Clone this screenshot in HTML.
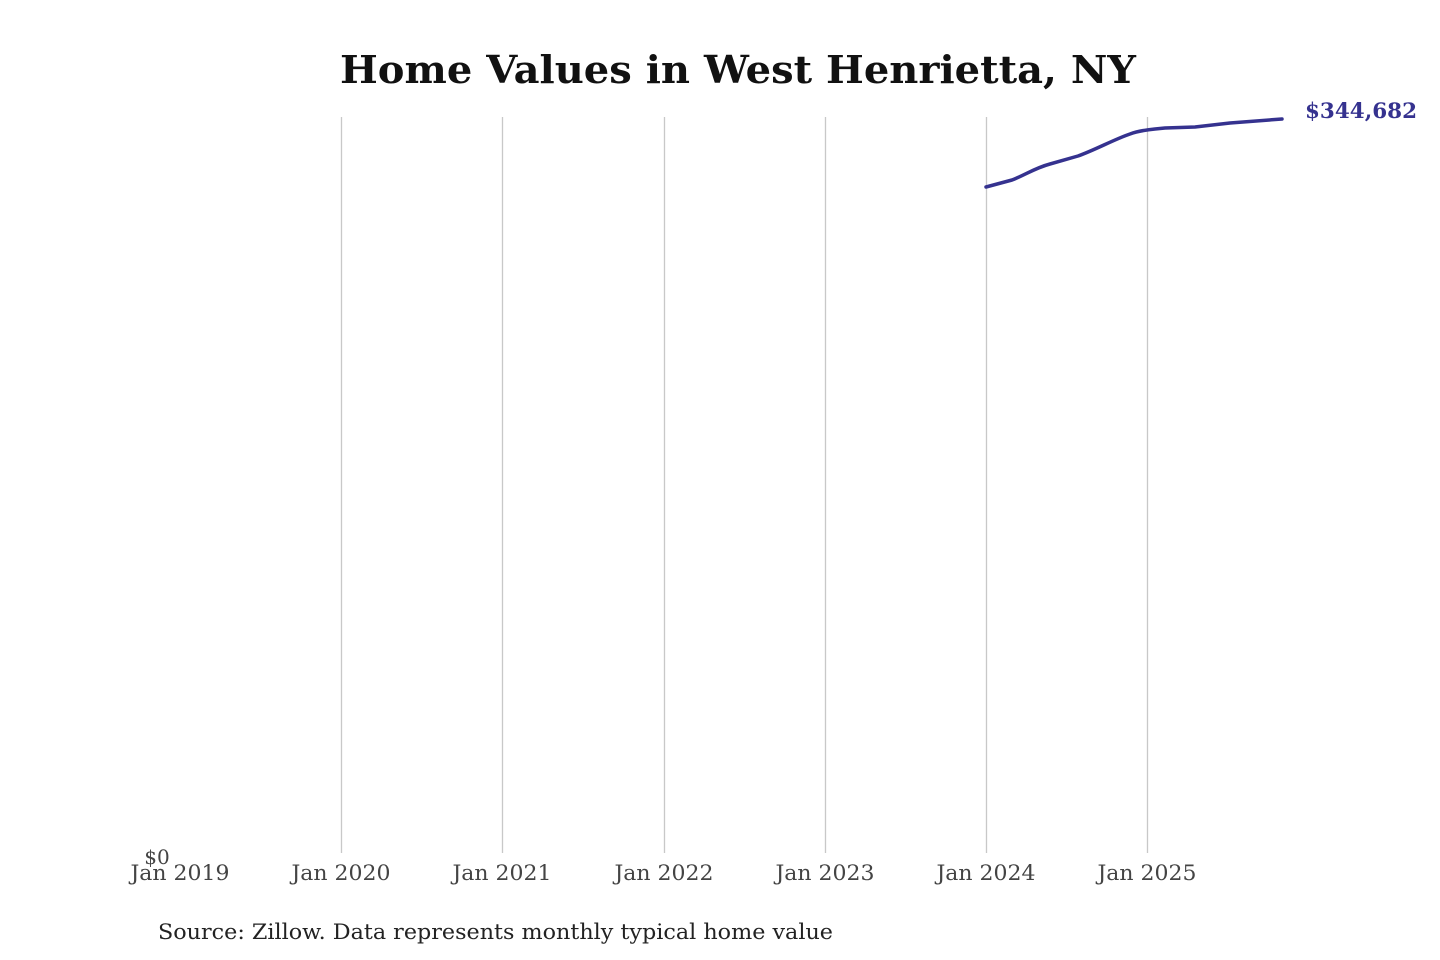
<!DOCTYPE html>
<html><head><meta charset="utf-8"><style>
html,body{margin:0;padding:0;background:#fff;}
svg{display:block;}
text{font-family:"DejaVu Serif","Liberation Serif",serif;}
</style></head><body>
<svg width="1440" height="960" viewBox="0 0 1440 960" xmlns="http://www.w3.org/2000/svg">
<text x="738" y="83" text-anchor="middle" font-size="38" font-weight="bold" fill="#111" textLength="796" lengthAdjust="spacingAndGlyphs">Home Values in West Henrietta, NY</text>
<g stroke="#c8c8c8" stroke-width="1.3">
<line x1="341.5" y1="117" x2="341.5" y2="853"/>
<line x1="502.5" y1="117" x2="502.5" y2="853"/>
<line x1="664.5" y1="117" x2="664.5" y2="853"/>
<line x1="825.5" y1="117" x2="825.5" y2="853"/>
<line x1="986.5" y1="117" x2="986.5" y2="853"/>
<line x1="1147.5" y1="117" x2="1147.5" y2="853"/>
</g>
<g font-size="21" fill="#444" text-anchor="middle">
<text x="180" y="880" textLength="99" lengthAdjust="spacingAndGlyphs">Jan 2019</text>
<text x="341" y="880" textLength="99" lengthAdjust="spacingAndGlyphs">Jan 2020</text>
<text x="502" y="880" textLength="99" lengthAdjust="spacingAndGlyphs">Jan 2021</text>
<text x="664" y="880" textLength="99" lengthAdjust="spacingAndGlyphs">Jan 2022</text>
<text x="825" y="880" textLength="99" lengthAdjust="spacingAndGlyphs">Jan 2023</text>
<text x="986" y="880" textLength="99" lengthAdjust="spacingAndGlyphs">Jan 2024</text>
<text x="1147" y="880" textLength="99" lengthAdjust="spacingAndGlyphs">Jan 2025</text>
</g>
<text x="157" y="864" text-anchor="middle" font-size="20" fill="#444">$0</text>
<path d="M986,187 L1012,180 C1025,175 1035,168 1050,164 L1078,156 C1095,150 1115,139 1130,134 C1138,131 1145,130 1155,129 L1165,128 L1195,127 L1230,123 L1282,119" fill="none" stroke="#35328f" stroke-width="3.5" stroke-linecap="round" stroke-linejoin="round"/>
<text x="1305" y="118" font-size="21" font-weight="bold" fill="#35328f" textLength="112" lengthAdjust="spacingAndGlyphs">$344,682</text>
<text x="158" y="939" font-size="21" fill="#222" textLength="675" lengthAdjust="spacingAndGlyphs">Source: Zillow. Data represents monthly typical home value</text>
</svg>
</body></html>
